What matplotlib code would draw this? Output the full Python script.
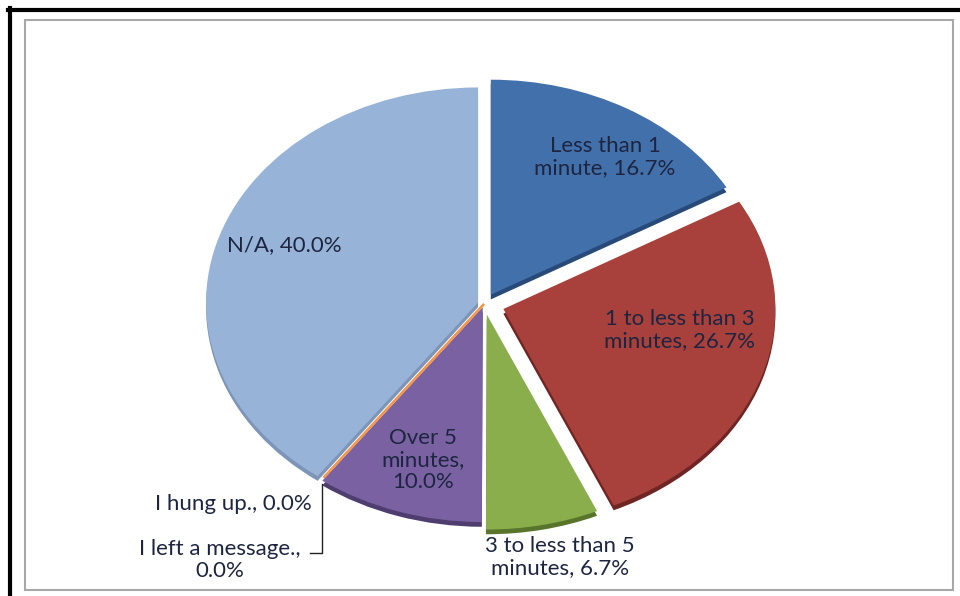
import numpy as np
import matplotlib.pyplot as plt
from matplotlib.lines import Line2D
from matplotlib.patches import Rectangle

# data (percent of responses), clockwise from 12 o'clock
categories = ['Less than 1\nminute', '1 to less than 3\nminutes', '3 to less than 5\nminutes',
              'Over 5\nminutes', 'I hung up.', 'I left a message.', 'N/A']
values = [16.7, 26.7, 6.7, 10.0, 0.0, 0.0, 40.0]
label_texts = ['Less than 1\nminute, 16.7%', '1 to less than 3\nminutes, 26.7%',
               '3 to less than 5\nminutes, 6.7%', 'Over 5\nminutes,\n10.0%',
               'I hung up., 0.0%', 'I left a message.,\n0.0%', 'N/A, 40.0%']

colors = ['#4170aa', '#a8403c', '#8aae4b', '#7a62a2', '#f79646', '#f79646', '#98b3d8']
shade = ['#284a78', '#6e2523', '#59752c', '#4f3d70', '#c06a20', '#c06a20', '#7d95b8']
explode = [0.05, 0.075, 0.05, 0.015, 0.0, 0.0, 0.023]

# label layout (axes data units, pie radius = 1)
label_pos = [(0.445, 0.684), (0.72, -0.121), (0.279, -1.177), (-0.224, -0.726),
             (-0.632, -0.93), (-0.971, -1.191), (-0.735, 0.274)]
label_ha = ['center', 'center', 'center', 'center', 'right', 'center', 'center']

plt.rcParams['font.family'] = ['Lato', 'DejaVu Sans']

fig = plt.figure(figsize=(9.6, 5.96), dpi=100)
ax = fig.add_axes([0, 0, 1, 1])

# 3d-ish thickness: darker copy a bit lower
ax.pie(values, colors=shade, startangle=90, counterclock=False, explode=explode,
       center=(0, -0.022), wedgeprops=dict(linewidth=0))
wedges, _ = ax.pie(values, colors=colors, startangle=90, counterclock=False, explode=explode,
                   wedgeprops=dict(linewidth=0))
for w, v in zip(wedges, values):
    if v == 0:
        w.set_edgecolor('#f79646')
        w.set_linewidth(1.6)

# squash into an ellipse: 272 px across, 215 px tall per unit
cx, cy, rx, ry = 484, 304, 272, 215
ax.set_aspect('auto')
ax.set_xlim(-cx / rx, (960 - cx) / rx)
ax.set_ylim(-(596 - cy) / ry, cy / ry)
ax.axis('off')

for txt, (x, y), ha in zip(label_texts, label_pos, label_ha):
    ax.text(x, y, txt, ha=ha, va='center', fontsize=16, color='#1d2541',
            linespacing=1.12)

# leader line for the "I left a message." label
zero_start = 90 - 360 * sum(values[:5]) / sum(values)
tip = (np.cos(np.radians(zero_start)), np.sin(np.radians(zero_start)))
lx, ly = -0.64, -1.158
ax.plot([lx, tip[0] - 0.005, tip[0] - 0.005], [ly, ly, tip[1] - 0.03],
        color='#222222', lw=1)

# frames
fig.patches.append(Rectangle((25 / 960, 1 - 590 / 596), 928 / 960, 570 / 596,
                             transform=fig.transFigure, fill=False,
                             edgecolor='#a8a8a8', lw=1.5))
fig.lines.append(Line2D([8 / 960, 1], [1 - 10 / 596] * 2, transform=fig.transFigure,
                        color='black', lw=3))
fig.lines.append(Line2D([10 / 960] * 2, [0, 1 - 8 / 596], transform=fig.transFigure,
                        color='black', lw=3))

fig.savefig('out.png', dpi=100)
